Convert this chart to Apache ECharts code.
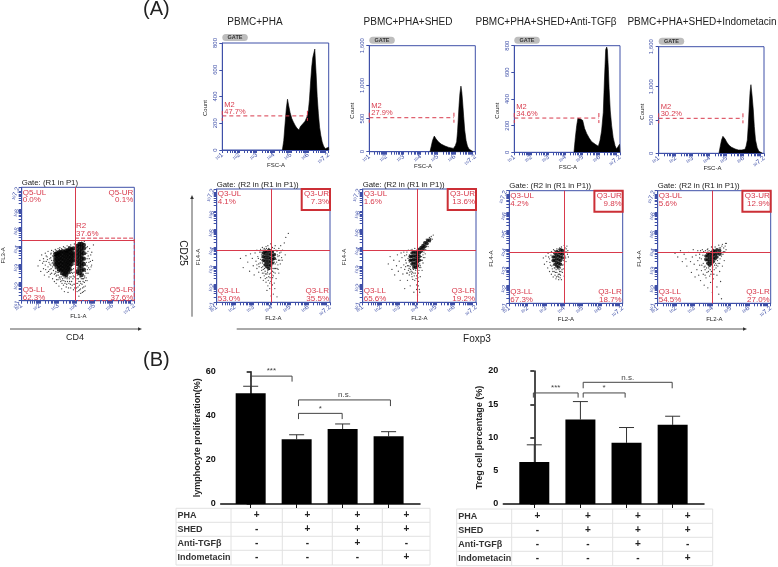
<!DOCTYPE html>
<html>
<head>
<meta charset="utf-8">
<title>PBMC flow cytometry</title>
<script src="https://cdn.jsdelivr.net/npm/echarts@6/dist/echarts.min.js"></script>
<style>
  html, body { margin: 0; padding: 0; background: #fff; }
  #main { width: 778px; height: 567px; }
</style>
</head>
<body>
<div id="main"></div>
<script>
  // histograms, [log10 FSC-A, count]
  var histPha = [[4.5,0],[4.58,70],[4.66,200],[4.73,310],[4.8,380],[4.87,330],[4.95,280],[5.05,235],[5.14,210],[5.24,185],[5.34,165],[5.47,150],[5.55,175],[5.63,185],[5.72,200],[5.82,215],[5.96,255],[6.02,300],[6.08,380],[6.14,500],[6.21,620],[6.27,690],[6.31,700],[6.39,755],[6.43,650],[6.47,560],[6.53,400],[6.6,270],[6.67,170],[6.74,110],[6.82,60],[6.9,30],[7.0,10],[7.09,5],[7.19,20],[7.2,0]];
  var histShed = [[4.55,0],[4.62,80],[4.7,170],[4.8,236],[4.9,195],[5.04,150],[5.2,115],[5.43,85],[5.65,65],[5.92,50],[6.03,90],[6.11,150],[6.16,300],[6.2,478],[6.25,700],[6.3,880],[6.36,990],[6.41,900],[6.45,780],[6.52,530],[6.58,327],[6.66,170],[6.74,85],[6.83,40],[6.93,15],[7.07,0]];
  var histTgf = [[4.5,0],[4.58,110],[4.66,200],[4.73,255],[4.8,265],[4.88,250],[5.01,240],[5.12,180],[5.25,140],[5.4,105],[5.54,80],[5.75,60],[5.93,45],[6.03,90],[6.12,160],[6.22,300],[6.28,520],[6.36,770],[6.42,790],[6.46,770],[6.52,620],[6.56,480],[6.63,310],[6.71,200],[6.8,110],[6.91,50],[7.0,25],[7.1,10],[7.17,60],[7.2,0]];
  var histIndo = [[4.55,0],[4.62,100],[4.7,200],[4.78,255],[4.84,270],[4.92,210],[5.0,170],[5.14,120],[5.29,90],[5.5,65],[5.69,50],[5.9,50],[6.08,60],[6.15,110],[6.22,200],[6.28,440],[6.33,700],[6.38,920],[6.43,1030],[6.5,860],[6.57,650],[6.63,400],[6.7,200],[6.8,85],[6.9,30],[7.0,10],[7.12,0]];

  var histYMax = [800, 1600, 800, 1600];
  var histYTicks = [[0,200,400,600,800],[0,500,1000,1600],[0,200,400,600,800],[0,500,1000,1600]];
  var m2Values = [47.7, 27.9, 34.6, 30.2];
  // gate: [left edge, right edge, level]
  var m2Gates = [[1,5.96,255],[1,5.95,513],[1,5.96,257],[1,5.96,525]];
  var histTitles = ['PBMC+PHA','PBMC+PHA+SHED','PBMC+PHA+SHED+Anti-TGFβ','PBMC+PHA+SHED+Indometacin'];

  // dot plots, [log10 x, log10 y]
  var q5Sparse = [[1.9,2.9],[2.0,3.2],[2.05,2.6],[2.1,3.5],[2.15,3.05],[2.2,2.75],[2.2,3.3],[2.25,2.4],[2.3,3.6],[2.3,2.95],[2.35,3.15],[2.4,2.55],[2.4,3.4],[2.45,2.85],[2.45,3.7],[2.5,3.1],[2.5,2.3],[2.55,3.3],[2.55,2.7],[2.6,3.55],[2.6,2.95],[2.65,3.75],[2.65,2.5],[2.65,3.2],[2.7,2.85],[2.7,2.2],[2.7,3.45],[2.75,2.65],[2.75,3.7],[2.8,2.45],[2.8,2.05],[2.85,2.75],[2.85,3.8],[2.9,2.35],[2.9,1.95],[2.95,2.55],[3.0,2.15],[3.0,3.85],[3.05,1.8],[3.1,2.3],[3.1,3.9],[3.15,2.05],[3.2,1.65],[3.25,2.2],[3.3,1.85],[3.3,3.95],[3.35,1.5],[3.4,2.05],[3.45,1.75],[3.5,2.2],[3.5,4.0],[3.55,1.45],[3.6,1.95],[3.65,2.3],[3.7,1.7],[3.7,4.05],[3.75,2.05],[3.8,2.5],[3.85,2.75],[3.85,1.6],[3.9,2.3],[3.9,4.1],[3.95,1.9],[4.0,2.5],[4.0,3.2],[4.05,1.5],[4.05,2.2],[4.05,2.8],[4.1,1.75],[4.1,2.45],[4.15,1.25],[4.15,2.05],[4.15,4.15],[4.2,1.6],[4.2,2.3],[4.25,1.4],[4.25,1.95],[4.3,2.55],[4.3,4.2],[4.35,1.7],[4.35,2.2],[4.4,1.5],[4.4,2.45],[4.45,2.0],[4.45,3.1],[4.45,4.25],[4.5,1.8],[4.5,2.6],[4.5,3.55],[4.55,2.25],[4.55,3.9],[4.6,2.9],[4.6,3.3],[4.65,2.5],[4.65,3.7],[4.7,3.1],[4.75,2.7],[4.8,3.5],[4.85,2.95],[4.9,3.2],[4.95,4.05],[2.55,3.0],[2.6,3.35],[2.72,3.1],[2.78,3.3],[2.85,2.5],[2.92,2.15],[3.02,2.4],[3.12,2.18],[3.22,1.95],[3.32,2.1],[3.42,2.25],[3.52,2.05],[3.62,2.2],[3.72,2.3],[3.82,2.2],[3.88,1.9],[4.0,1.95],[4.25,2.3],[4.4,2.2],[4.47,2.35],[4.52,2.95],[4.58,3.6],[4.62,2.7],[2.62,3.6],[2.68,3.05],[2.74,2.95],[2.8,3.6],[2.82,2.85],[2.88,2.6],[2.9,3.75],[2.94,2.4],[2.98,2.65],[3.02,2.55],[3.06,2.25],[3.08,3.8],[3.14,2.45],[3.18,2.3],[3.2,3.85],[3.22,2.1],[3.28,2.35],[3.34,2.25],[3.38,1.95],[3.38,3.9],[3.44,2.3],[3.48,1.9],[3.54,2.28],[3.58,1.7],[3.6,3.95],[3.64,2.05],[3.68,1.9],[3.68,2.5],[3.74,2.55],[3.78,1.85],[3.78,2.7],[3.84,2.35],[3.88,2.55],[3.9,3.0],[3.92,1.7],[3.97,2.1],[4.02,1.7],[4.06,2.4],[4.08,1.95],[4.12,2.2],[4.14,1.55],[4.18,1.85],[4.22,2.05],[4.24,1.65],[4.28,2.2],[4.32,1.9],[4.34,1.45],[4.38,2.05],[4.42,1.75],[4.46,2.25],[4.48,1.55],[4.52,2.1],[4.54,2.5],[4.56,3.1],[4.6,2.1],[4.62,3.95],[4.66,3.45],[4.68,2.8],[4.72,3.3],[4.74,3.85],[4.78,3.15],[4.82,2.85],[4.86,3.65],[2.22,3.15],[2.32,2.7],[2.42,3.25],[2.48,2.6],[2.58,2.45],[2.62,2.75],[2.35,3.45]];
  var q5Core = [[2.85,3.0],[2.85,3.2],[2.85,3.4],[2.85,3.55],[2.95,2.85],[2.95,3.05],[2.95,3.25],[2.95,3.45],[2.95,3.6],[3.05,2.7],[3.05,2.9],[3.05,3.1],[3.05,3.3],[3.05,3.5],[3.05,3.65],[3.15,2.65],[3.15,2.85],[3.15,3.05],[3.15,3.25],[3.15,3.45],[3.15,3.65],[3.25,2.5],[3.25,2.7],[3.25,2.9],[3.25,3.1],[3.25,3.3],[3.25,3.5],[3.25,3.7],[3.35,2.45],[3.35,2.65],[3.35,2.85],[3.35,3.05],[3.35,3.25],[3.35,3.45],[3.35,3.65],[3.45,2.4],[3.45,2.6],[3.45,2.8],[3.45,3.0],[3.45,3.2],[3.45,3.4],[3.45,3.6],[3.45,3.75],[3.55,2.55],[3.55,2.75],[3.55,2.95],[3.55,3.15],[3.55,3.35],[3.55,3.55],[3.55,3.75],[3.65,2.7],[3.65,2.9],[3.65,3.1],[3.65,3.3],[3.65,3.5],[3.65,3.7],[3.65,3.85],[3.75,3.0],[3.75,3.2],[3.75,3.4],[3.75,3.6],[3.75,3.8],[3.85,3.2],[3.85,3.4],[3.85,3.6],[3.85,3.85],[4.05,2.6],[4.05,3.0],[4.05,3.2],[4.05,3.4],[4.05,3.6],[4.05,3.8],[4.05,4.0],[4.18,2.5],[4.18,2.75],[4.18,2.95],[4.18,3.15],[4.18,3.35],[4.18,3.55],[4.18,3.75],[4.18,3.95],[4.18,4.1],[4.3,2.4],[4.3,2.65],[4.3,2.9],[4.3,3.1],[4.3,3.3],[4.3,3.5],[4.3,3.7],[4.3,3.9],[4.3,4.1],[4.42,2.7],[4.42,3.0],[4.42,3.3],[4.42,3.6],[4.42,3.85],[4.42,4.05]];
  var q3aSparse = [[2.3,3.4],[2.45,2.9],[2.6,3.55],[2.7,3.2],[2.8,2.7],[2.85,3.65],[2.95,3.4],[3.0,3.0],[3.05,2.5],[3.1,3.7],[3.15,3.25],[3.2,2.85],[3.2,3.85],[3.25,3.5],[3.3,2.65],[3.3,3.1],[3.35,3.75],[3.4,2.35],[3.4,3.35],[3.4,3.9],[3.45,2.9],[3.45,3.6],[3.5,2.6],[3.5,3.15],[3.5,4.0],[3.55,2.2],[3.55,2.8],[3.6,3.05],[3.6,3.95],[3.6,2.45],[3.65,2.7],[3.7,2.9],[3.7,2.1],[3.7,4.05],[3.75,2.55],[3.8,2.75],[3.8,1.9],[3.8,4.1],[3.85,2.4],[3.85,3.95],[3.9,2.8],[3.9,2.05],[3.95,2.6],[3.95,4.2],[4.0,2.25],[4.0,2.9],[4.0,1.7],[4.05,2.7],[4.05,4.0],[4.1,2.45],[4.1,1.45],[4.15,2.85],[4.15,3.95],[4.15,2.05],[4.2,3.1],[4.2,3.65],[4.2,2.6],[4.2,4.1],[4.25,3.35],[4.25,2.3],[4.3,3.8],[4.3,2.85],[4.3,1.3],[4.35,3.5],[4.35,3.05],[4.4,3.95],[4.4,2.6],[4.45,3.3],[4.45,3.7],[4.5,4.1],[4.55,3.45],[4.6,3.85],[4.7,4.25],[4.75,3.6],[4.92,4.77],[4.78,4.55],[3.2,3.05],[3.28,3.4],[3.32,2.95],[3.38,3.15],[3.42,3.75],[3.46,2.75],[3.48,3.45],[3.52,2.95],[3.54,3.85],[3.58,2.6],[3.62,2.85],[3.66,2.3],[3.68,2.55],[3.72,3.95],[3.74,2.35],[3.78,2.65],[3.82,2.2],[3.88,2.55],[3.92,2.35],[3.96,2.15],[4.02,2.5],[4.06,2.35],[4.08,2.85],[4.12,2.65],[4.16,3.2],[4.22,2.85],[4.24,3.85],[4.28,3.2],[4.32,3.6],[4.36,2.8],[4.38,3.3],[4.42,3.55],[4.48,3.1],[4.52,3.75],[4.58,3.3],[3.9,1.75],[4.05,1.95],[3.75,1.65],[4.18,1.75],[3.98,1.35]];
  var q3aCore = [[3.55,3.3],[3.55,3.5],[3.55,3.7],[3.65,3.05],[3.65,3.25],[3.65,3.45],[3.65,3.65],[3.65,3.8],[3.75,2.95],[3.75,3.15],[3.75,3.35],[3.75,3.55],[3.75,3.75],[3.85,2.85],[3.85,3.05],[3.85,3.25],[3.85,3.45],[3.85,3.65],[3.85,3.85],[3.95,3.0],[3.95,3.2],[3.95,3.4],[3.95,3.6],[3.95,3.8],[4.05,3.15],[4.05,3.35],[4.05,3.55],[4.05,3.75],[4.15,3.4],[4.15,3.6]];
  var q3bSparse = [[2.4,3.1],[2.5,3.5],[2.6,2.8],[2.7,3.3],[2.75,2.5],[2.85,3.0],[2.9,3.6],[2.95,2.7],[3.0,3.25],[3.05,2.2],[3.1,3.7],[3.1,2.9],[3.15,3.45],[3.2,2.55],[3.25,3.05],[3.25,3.75],[3.3,2.8],[3.3,1.75],[3.35,3.3],[3.4,2.6],[3.4,3.6],[3.45,3.0],[3.45,2.2],[3.5,3.85],[3.5,2.75],[3.55,3.2],[3.55,2.5],[3.6,2.95],[3.6,1.9],[3.65,2.7],[3.7,3.9],[3.7,2.4],[3.75,2.85],[3.8,2.6],[3.8,1.55],[3.85,3.95],[3.85,2.2],[3.9,2.75],[3.95,2.45],[3.95,1.95],[4.0,2.85],[4.0,1.4],[4.05,2.6],[4.05,2.15],[4.1,2.9],[4.1,1.7],[4.15,3.0],[4.15,2.4],[4.2,3.85],[4.2,3.3],[4.25,2.75],[4.25,4.0],[4.3,3.6],[4.3,3.15],[4.35,4.15],[4.35,3.75],[4.4,3.45],[4.45,4.3],[4.45,3.9],[4.5,4.05],[4.55,4.45],[4.6,4.2],[4.65,4.55],[4.7,4.35],[4.75,4.6],[4.8,4.45],[4.86,4.68],[3.3,3.55],[3.35,2.95],[3.38,3.15],[3.42,3.75],[3.45,2.6],[3.48,3.4],[3.52,3.0],[3.54,2.85],[3.56,3.6],[3.58,2.65],[3.62,2.8],[3.64,3.85],[3.68,2.55],[3.72,2.65],[3.74,2.25],[3.78,2.8],[3.82,2.45],[3.88,2.6],[3.92,2.3],[4.02,2.35],[4.08,2.75],[4.12,3.1],[4.18,2.9],[4.22,3.5],[4.26,3.3],[4.32,3.45],[4.36,3.9],[4.42,3.65],[4.48,4.45],[4.58,4.05],[4.68,4.3],[4.72,4.5],[3.95,1.7],[4.05,1.9],[4.12,1.55]];
  var q3bCore = [[3.6,3.3],[3.6,3.5],[3.7,3.1],[3.7,3.3],[3.7,3.5],[3.7,3.7],[3.8,2.95],[3.8,3.15],[3.8,3.35],[3.8,3.55],[3.8,3.75],[3.9,2.9],[3.9,3.1],[3.9,3.3],[3.9,3.5],[3.9,3.7],[4.0,3.0],[4.0,3.2],[4.0,3.4],[4.0,3.6],[4.0,3.8],[4.1,3.3],[4.1,3.5],[4.1,3.7],[4.1,3.9],[4.2,3.8],[4.2,4.0],[4.3,3.95],[4.3,4.1],[4.4,4.05],[4.4,4.25],[4.5,4.2],[4.55,4.35],[4.65,4.4]];
  var q3cSparse = [[2.86,3.5],[2.92,3.15],[3.0,3.6],[3.05,3.3],[3.1,2.95],[3.12,3.75],[3.2,3.45],[3.2,2.75],[3.25,3.1],[3.3,3.85],[3.3,2.6],[3.35,2.9],[3.4,2.45],[3.42,3.95],[3.45,2.75],[3.5,2.55],[3.5,2.95],[3.55,2.35],[3.6,2.7],[3.6,4.0],[3.65,2.5],[3.65,2.9],[3.7,2.3],[3.75,2.75],[3.75,4.05],[3.8,2.55],[3.8,2.95],[3.85,2.3],[3.85,4.1],[3.9,2.7],[3.9,3.95],[3.95,2.9],[4.0,2.5],[4.0,4.19],[4.0,3.15],[4.05,3.6],[4.05,4.05],[4.1,3.85],[4.1,3.3],[4.15,4.15],[4.2,3.9],[4.23,3.55],[3.15,3.55],[3.22,3.25],[3.28,3.65],[3.32,3.05],[3.35,3.8],[3.38,2.75],[3.4,3.1],[3.46,2.95],[3.48,3.9],[3.52,2.7],[3.56,2.85],[3.58,2.45],[3.62,2.95],[3.68,2.6],[3.68,3.98],[3.72,2.85],[3.78,2.4],[3.82,2.75],[3.88,2.85],[3.92,3.1],[3.95,3.35],[3.98,3.7],[4.02,3.95],[4.08,3.5],[4.12,4.0],[4.18,3.7],[3.7,2.45],[3.75,2.6]];
  var q3cCore = [[3.4,3.35],[3.4,3.55],[3.5,3.15],[3.5,3.35],[3.5,3.55],[3.5,3.75],[3.6,3.05],[3.6,3.25],[3.6,3.45],[3.6,3.65],[3.6,3.85],[3.7,3.0],[3.7,3.2],[3.7,3.4],[3.7,3.6],[3.7,3.8],[3.8,3.15],[3.8,3.35],[3.8,3.55],[3.8,3.75],[3.8,3.95],[3.9,3.5],[3.9,3.7],[3.9,3.9]];
  var q3dSparse = [[1.95,3.75],[2.1,3.55],[2.25,3.9],[2.35,3.3],[2.45,3.7],[2.55,3.45],[2.6,3.05],[2.7,3.8],[2.8,3.3],[2.85,2.7],[2.9,3.55],[2.95,3.95],[3.0,3.15],[3.05,2.45],[3.1,3.65],[3.15,2.85],[3.2,3.35],[3.2,3.9],[3.25,2.55],[3.3,3.1],[3.3,3.7],[3.35,2.25],[3.4,3.45],[3.4,2.8],[3.45,3.95],[3.5,2.6],[3.5,3.2],[3.55,2.0],[3.6,2.85],[3.6,3.05],[3.65,2.4],[3.7,2.7],[3.75,1.85],[3.75,4.0],[3.8,2.95],[3.85,2.5],[3.9,2.15],[3.95,2.75],[3.95,4.1],[4.0,1.6],[4.0,2.95],[4.05,2.35],[4.1,2.85],[4.15,4.1],[4.2,2.95],[4.25,2.55],[4.25,1.9],[4.3,3.85],[4.3,3.05],[4.35,4.2],[4.35,1.5],[4.4,2.75],[4.4,3.2],[4.45,4.05],[4.45,2.2],[4.5,3.6],[4.5,1.25],[4.55,4.25],[4.55,3.05],[4.6,3.85],[4.65,3.35],[4.7,4.15],[4.75,3.95],[4.77,4.3],[3.3,3.5],[3.35,3.9],[3.42,3.1],[3.48,3.65],[3.52,3.85],[3.55,3.0],[3.58,3.45],[3.6,2.55],[3.62,3.9],[3.68,2.95],[3.72,3.95],[3.78,2.75],[3.82,3.9],[3.88,2.85],[3.92,2.6],[4.02,3.0],[4.08,2.6],[4.12,3.1],[4.18,3.2],[4.22,3.1],[4.28,3.35],[4.32,3.2],[4.38,4.05],[4.42,3.45],[4.48,3.75],[4.52,4.15],[4.58,3.7],[4.62,4.05],[4.68,3.85],[4.72,4.3]];
  var q3dCore = [[3.65,3.4],[3.65,3.6],[3.75,3.2],[3.75,3.4],[3.75,3.6],[3.75,3.75],[3.85,3.1],[3.85,3.3],[3.85,3.5],[3.85,3.7],[3.95,3.2],[3.95,3.4],[3.95,3.6],[3.95,3.8],[4.05,3.3],[4.05,3.5],[4.05,3.7],[4.05,3.9],[4.15,3.45],[4.15,3.65],[4.15,3.85],[4.25,3.55],[4.25,3.75],[4.25,3.95],[4.4,3.7],[4.4,3.9]];

  var dotSparse = [q5Sparse, q3aSparse, q3bSparse, q3cSparse, q3dSparse];
  var dotCore = [q5Core, q3aCore, q3bCore, q3cCore, q3dCore];
  var dotCross = [[3.94,4.32],[3.99,3.84],[3.98,3.84],[3.98,3.83],[3.97,3.81]];
  var dotYName = ['FL3-A','FL4-A','FL4-A','FL4-A','FL4-A'];
  var dotXName = ['FL1-A','FL2-A','FL2-A','FL2-A','FL2-A'];
  var dotGate = ['Gate: (R1 in P1)','Gate: (R2 in (R1 in P1))','Gate: (R2 in (R1 in P1))','Gate: (R2 in (R1 in P1))','Gate: (R2 in (R1 in P1))'];
  // UL, UR, LL, LR
  var dotPercent = [
    ['0.0%','0.1%','62.3%','37.6%'],
    ['4.1%','7.3%','53.0%','35.5%'],
    ['1.6%','13.6%','65.6%','19.2%'],
    ['4.2%','9.8%','67.3%','18.7%'],
    ['5.6%','12.9%','54.5%','27.0%']
  ];
  var r2Gate = [[3.94,4.42],[7.2,4.42],[7.2,1],[3.94,1]];

  // bar charts
  var prolifMeans = [50.2, 29.4, 34, 30.7];
  var prolifTops = [53.4, 31.4, 36.3, 32.8];
  var tregMeans = [6.3, 12.7, 9.2, 11.9];
  var tregTops = [8.9, 15.4, 11.5, 13.2];
  // brackets: [from, to, top, left tip, right tip, text]
  var prolifBrackets = [[0,0.9,58,55.5,55.5,'***'],[1.04,3.04,47.2,44.4,44.4,'n.s.'],[1.04,1.99,41.1,38.5,38.5,'*']];
  var tregBrackets = [[-0.02,0.95,16.7,16,16,'***'],[1.06,2.99,18.3,17.4,17.4,'n.s.'],[1.06,1.97,16.7,16,16,'*']];
  var tableRows = ['PHA','SHED','Anti-TGFβ','Indometacin'];
  var tablePha = ['+','+','+','+'];
  var tableShed = ['-','+','+','+'];
  var tableTgf = ['-','-','+','-'];
  var tableIndo = ['-','-','-','+'];
  var tableValues = [tablePha, tableShed, tableTgf, tableIndo];

  // layout, pixels
  var histRects = [[222.3,43,106.4,107],[369.3,45.7,106,106],[514.3,45.7,105.7,106.6],[658.7,46.7,105.3,106.6]];
  var m2TextY = [105.3,106,107.3,107.3];
  var titleRects = [[255,22],[408,22],[546,22],[702,22]];
  var dotRects = [[21.7,187.3,112.6,113.4],[216.7,189,113.3,113.3],[362.7,189,113.3,113.3],[509.3,190.7,113.4,112.6],[657.7,190.7,113,112.6]];
  var tableLayouts = [
    {rows:[508.3,522.3,536.3,550.3,565], cols:[176,231,282.3,332.3,382.3,430], marks:[256.7,307.3,357.3,406.3]},
    {rows:[509,523.3,537.3,551.3,565.7], cols:[456.7,511.7,562.3,612.7,662.7,712.7], marks:[537.3,588,638,687.7]}
  ];

  var BLUE = '#3f50a8';
  var RED = '#d83a4c';
  var FONT = 'Liberation Sans, Arial, sans-serif';
  var chart = echarts.init(document.getElementById('main'));

  // log decade ticks from 10^1 to 10^7
  var logTicks = [];
  for (var d = 1; d < 7; d++) {
    for (var k = 1; k < 10; k++) {
      logTicks.push(d + Math.log10(k));
    }
  }
  logTicks.push(7, 7.2);

  var grids = [], xAxes = [], yAxes = [], series = [], graphics = [];

  function text(str, x, y, size, color, extra) {
    extra = extra || {};
    graphics.push({
      type: 'text', x: x, y: y, rotation: extra.rotation || 0, z: 20,
      style: {
        text: str, fill: color, textAlign: extra.align || 'center', textVerticalAlign: 'middle',
        font: (extra.bold ? 'bold ' : '') + size + 'px ' + FONT
      }
    });
  }

  function decadeLabel(v) {
    if (v == 7) return '';
    return '{a|10}{b|' + v + '}';
  }

  function logAxis(grid, rotate) {
    return {
      type: 'value', gridIndex: grid, min: 1, max: 7.2, splitLine: {show: false},
      axisLine: {lineStyle: {color: BLUE}},
      axisTick: {customValues: logTicks, length: 3, lineStyle: {color: BLUE}},
      axisLabel: {
        customValues: [1,2,3,4,5,6,7.2], rotate: rotate, margin: 4, formatter: decadeLabel,
        rich: {
          a: {fontSize: 4, color: BLUE, fontFamily: FONT},
          b: {fontSize: 6.5, color: BLUE, fontFamily: FONT}
        }
      }
    };
  }

  function gateLine(params, api) {
    var a = api.coord([api.value(0), api.value(2)]);
    var b = api.coord([api.value(1), api.value(2)]);
    var st = {stroke: RED, lineWidth: 1, lineDash: [4, 3], fill: null};
    return {type: 'group', children: [
      {type: 'line', shape: {x1: a[0], y1: a[1], x2: b[0], y2: b[1]}, style: st},
      {type: 'line', shape: {x1: a[0], y1: a[1] - 5, x2: a[0], y2: a[1] + 5}, style: st},
      {type: 'line', shape: {x1: b[0], y1: b[1] - 5, x2: b[0], y2: b[1] + 5}, style: st}
    ]};
  }

  // histograms on top row
  [histPha, histShed, histTgf, histIndo].forEach(function (hist, i) {
    var r = histRects[i];
    var g = grids.length;
    grids.push({left: r[0], top: r[1], width: r[2], height: r[3], show: true, borderColor: BLUE, borderWidth: 1, backgroundColor: 'transparent'});
    xAxes.push(logAxis(g, 40));
    yAxes.push({
      type: 'value', gridIndex: g, min: 0, max: histYMax[i], splitLine: {show: false},
      axisLine: {lineStyle: {color: BLUE}},
      axisTick: {customValues: histYTicks[i], length: 3, lineStyle: {color: BLUE}},
      axisLabel: {
        customValues: histYTicks[i], rotate: 90, margin: 4, fontSize: 6, color: BLUE, fontFamily: FONT,
        formatter: function (v) { return v >= 1000 ? '1,' + String(v).slice(1) : String(v); }
      }
    });
    series.push({
      type: 'line', xAxisIndex: g, yAxisIndex: g, data: hist, symbol: 'none', silent: true, animation: false,
      lineStyle: {color: '#000', width: 0.6}, areaStyle: {color: '#000', opacity: 1}
    });
    series.push({
      type: 'custom', xAxisIndex: g, yAxisIndex: g, data: [m2Gates[i]], renderItem: gateLine, animation: false, silent: true, z: 5
    });
    graphics.push({type: 'rect', shape: {x: r[0], y: r[1] - 9, width: 25.5, height: 7, r: 3.5}, style: {fill: '#bdbdbd'}});
    text('GATE', r[0] + 12.7, r[1] - 5.4, 5.5, '#333', {bold: true});
    text('M2', r[0] + 2, m2TextY[i], 7.5, RED, {align: 'left'});
    text(m2Values[i] + '%', r[0] + 2, m2TextY[i] + 6.8, 7.5, RED, {align: 'left'});
    text('Count', r[0] - 16.6, r[1] + 65, 6, '#222', {rotation: Math.PI / 2});
    text('FSC-A', r[0] + 53.7, r[1] + r[3] + 15, 6, '#222');
    text(histTitles[i], titleRects[i][0], titleRects[i][1], 10, '#222');
  });

  // dot plots on the second row
  dotRects.forEach(function (r, i) {
    var g = grids.length;
    grids.push({left: r[0], top: r[1], width: r[2], height: r[3], show: true, borderColor: BLUE, borderWidth: 1, backgroundColor: 'transparent'});
    xAxes.push(logAxis(g, 40));
    yAxes.push(logAxis(g, 70));
    series.push({
      type: 'scatter', xAxisIndex: g, yAxisIndex: g, data: dotCore[i], symbolSize: i == 0 ? 4.4 : 3.6, silent: true, animation: false,
      itemStyle: {color: '#000'}
    });
    series.push({
      type: 'scatter', xAxisIndex: g, yAxisIndex: g, data: dotSparse[i], symbolSize: 1.3, silent: true, animation: false,
      itemStyle: {color: '#111'},
      markLine: {
        silent: true, symbol: 'none', animation: false, label: {show: false},
        lineStyle: {color: RED, type: 'solid', width: 1},
        data: [{xAxis: dotCross[i][0]}, {yAxis: dotCross[i][1]}]
      }
    });
    text(dotGate[i], r[0], r[1] - 4.5, 7.8, '#222', {align: 'left'});
    var prefix = i == 0 ? 'Q5' : 'Q3';
    var right = r[0] + r[2] - 1, bottom = r[1] + r[3];
    text(prefix + '-UL', r[0] + 1, r[1] + 5, 8, RED, {align: 'left'});
    text(dotPercent[i][0], r[0] + 1, r[1] + 12.8, 8, RED, {align: 'left'});
    text(prefix + '-UR', right, r[1] + 5, 8, RED, {align: 'right'});
    text(dotPercent[i][1], right, r[1] + 12.8, 8, RED, {align: 'right'});
    text(prefix + '-LL', r[0] + 1, bottom - 11.4, 8, RED, {align: 'left'});
    text(dotPercent[i][2], r[0] + 1, bottom - 3.4, 8, RED, {align: 'left'});
    text(prefix + '-LR', right, bottom - 11.4, 8, RED, {align: 'right'});
    text(dotPercent[i][3], right, bottom - 3.4, 8, RED, {align: 'right'});
    text(dotYName[i], r[0] - 18, r[1] + 68, 6, '#222', {rotation: Math.PI / 2});
    text(dotXName[i], r[0] + 56.6, bottom + 16, 6, '#222');
    if (i > 0) {
      graphics.push({type: 'rect', z: 21, shape: {x: r[0] + r[2] - 28.3, y: r[1], width: 28.3, height: 21}, style: {fill: null, stroke: '#cc2f36', lineWidth: 2}});
    }
  });
  series.push({
    type: 'line', xAxisIndex: 4, yAxisIndex: 4, data: r2Gate, symbol: 'none', silent: true, animation: false,
    lineStyle: {color: RED, type: 'dashed', width: 1}
  });
  text('R2', 76, 226, 8, RED, {align: 'left'});
  text('37.6%', 76, 234, 8, RED, {align: 'left'});

  function errorBar(params, api) {
    var x = api.value(0);
    var a = api.coord([x, api.value(1)]);
    var b = api.coord([x, api.value(2)]);
    var st = {stroke: '#333', lineWidth: 1};
    return {type: 'group', children: [
      {type: 'line', shape: {x1: a[0], y1: a[1], x2: b[0], y2: b[1]}, style: st},
      {type: 'line', shape: {x1: b[0] - 7.5, y1: b[1], x2: b[0] + 7.5, y2: b[1]}, style: st}
    ]};
  }

  function bracket(params, api) {
    var a = api.coord([api.value(0), api.value(2)]);
    var b = api.coord([api.value(1), api.value(2)]);
    var la = api.coord([api.value(0), api.value(3)]);
    var lb = api.coord([api.value(1), api.value(4)]);
    var label = api.value(5);
    return {type: 'group', children: [
      {type: 'polyline', shape: {points: [la, a, b, lb]}, style: {stroke: '#444', lineWidth: 1, fill: null}},
      {type: 'text', style: {text: label, x: (a[0] + b[0]) / 2, y: a[1] - 1, textAlign: 'center', textVerticalAlign: 'bottom', fill: '#444', font: '8px ' + FONT}}
    ]};
  }

  function barPanel(rect, xMin, xMax, yMax, yInterval, yName, means, tops, brackets) {
    var g = grids.length;
    grids.push({left: rect[0], top: rect[1], width: rect[2], height: rect[3]});
    xAxes.push({
      type: 'value', gridIndex: g, min: xMin, max: xMax, splitLine: {show: false},
      axisLine: {lineStyle: {color: '#111', width: 1.5}},
      axisTick: {customValues: [0,1,2,3], length: 4, lineStyle: {color: '#111', width: 1}},
      axisLabel: {show: false}
    });
    yAxes.push({
      type: 'value', gridIndex: g, min: 0, max: yMax, interval: yInterval, splitLine: {show: false},
      axisLine: {show: true, lineStyle: {color: '#111', width: 1.5}},
      axisTick: {show: true, length: 4, lineStyle: {color: '#111', width: 1.5}},
      axisLabel: {color: '#111', fontSize: 9, fontWeight: 'bold', fontFamily: FONT, margin: 5},
      name: yName, nameLocation: 'middle', nameGap: 18,
      nameTextStyle: {color: '#222', fontSize: 9, fontWeight: 'bold', fontFamily: FONT}
    });
    series.push({
      type: 'custom', xAxisIndex: g, yAxisIndex: g, renderItem: errorBar, animation: false, silent: true,
      data: means.map(function (m, i) { return [i, m, tops[i]]; })
    });
    series.push({
      type: 'bar', xAxisIndex: g, yAxisIndex: g, barWidth: 30, animation: false, silent: true,
      itemStyle: {color: '#000'},
      data: means.map(function (m, i) { return [i, m]; })
    });
    series.push({
      type: 'custom', xAxisIndex: g, yAxisIndex: g, renderItem: bracket, animation: false, silent: true,
      encode: {x: [0, 1], y: 2}, dimensions: [null, null, null, null, null, {name: 'mark', type: 'ordinal'}],
      data: brackets
    });
  }

  barPanel([220.7,371.7,199.3,132.3], -0.652, 3.683, 60, 20, 'lymphocyte proliferation(%)', prolifMeans, prolifTops, prolifBrackets);
  barPanel([503.3,371,200.7,133], -0.672, 3.68, 20, 5, 'Treg cell percentage (%)', tregMeans, tregTops, tregBrackets);

  // condition tables under bars
  tableLayouts.forEach(function (t) {
    t.rows.forEach(function (y) {
      graphics.push({type: 'line', shape: {x1: t.cols[0], y1: y, x2: t.cols[5], y2: y}, style: {stroke: '#e2e2e2', lineWidth: 1}});
    });
    t.cols.forEach(function (x) {
      graphics.push({type: 'line', shape: {x1: x, y1: t.rows[0], x2: x, y2: t.rows[4]}, style: {stroke: '#e2e2e2', lineWidth: 1}});
    });
    tableRows.forEach(function (name, r) {
      var cy = (t.rows[r] + t.rows[r + 1]) / 2;
      text(name, t.cols[0] + 1.5, cy, 9, '#333', {align: 'left', bold: true});
      tableValues[r].forEach(function (v, c) {
        text(v, t.marks[c], cy, 10, '#222', {bold: true});
      });
    });
  });

  // panel letters and arrows
  text('(A)', 143, 9, 20, '#222', {align: 'left'});
  text('(B)', 143, 360, 20, '#222', {align: 'left'});

  function arrow(x1, y1, x2, y2) {
    graphics.push({type: 'line', shape: {x1: x1, y1: y1, x2: x2, y2: y2}, style: {stroke: '#555', lineWidth: 1}});
    var ang = Math.atan2(y2 - y1, x2 - x1);
    var px = Math.cos(ang), py = Math.sin(ang);
    graphics.push({type: 'polygon', shape: {points: [
      [x2 + px * 2, y2 + py * 2],
      [x2 - px * 2 - py * 1.8, y2 - py * 2 + px * 1.8],
      [x2 - px * 2 + py * 1.8, y2 - py * 2 - px * 1.8]
    ]}, style: {fill: '#333'}});
  }
  arrow(10, 329, 140, 329);
  arrow(192, 316.7, 192, 197);
  arrow(236.7, 329, 745, 329);
  text('CD4', 75, 338, 9, '#222');
  text('CD25', 183, 253, 10, '#222', {rotation: -Math.PI / 2});
  text('Foxp3', 477, 339, 10, '#222');

  chart.setOption({
    backgroundColor: '#fff',
    animation: false,
    textStyle: {fontFamily: FONT},
    grid: grids,
    xAxis: xAxes,
    yAxis: yAxes,
    series: series,
    graphic: {elements: graphics}
  });
</script>
</body>
</html>
